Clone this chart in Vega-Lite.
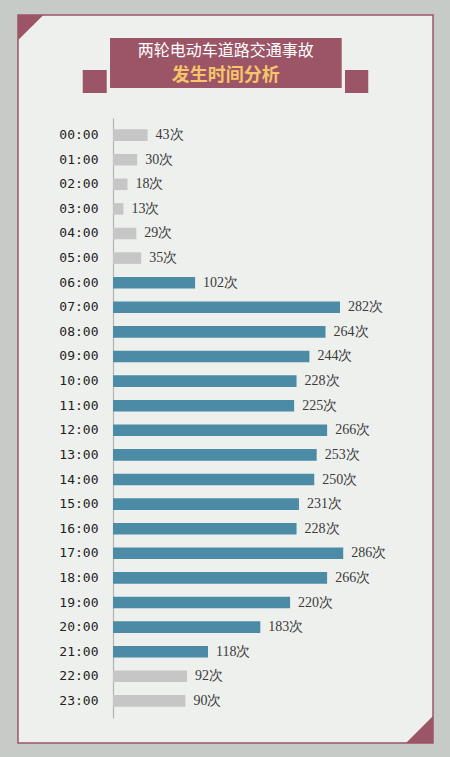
{
  "$schema": "https://vega.github.io/schema/vega-lite/v6.json",
  "width": 415,
  "height": 728,
  "autosize": {"type": "none"},
  "padding": {"left": 18, "top": 15, "right": 17, "bottom": 14},
  "background": "#c6cbc8",
  "data": {
    "values": [
      {"hour": "00:00", "count": 43},
      {"hour": "01:00", "count": 30},
      {"hour": "02:00", "count": 18},
      {"hour": "03:00", "count": 13},
      {"hour": "04:00", "count": 29},
      {"hour": "05:00", "count": 35},
      {"hour": "06:00", "count": 102},
      {"hour": "07:00", "count": 282},
      {"hour": "08:00", "count": 264},
      {"hour": "09:00", "count": 244},
      {"hour": "10:00", "count": 228},
      {"hour": "11:00", "count": 225},
      {"hour": "12:00", "count": 266},
      {"hour": "13:00", "count": 253},
      {"hour": "14:00", "count": 250},
      {"hour": "15:00", "count": 231},
      {"hour": "16:00", "count": 228},
      {"hour": "17:00", "count": 286},
      {"hour": "18:00", "count": 266},
      {"hour": "19:00", "count": 220},
      {"hour": "20:00", "count": 183},
      {"hour": "21:00", "count": 118},
      {"hour": "22:00", "count": 92},
      {"hour": "23:00", "count": 90}
    ]
  },
  "layer": [
    {
      "data": {"values": [{}]},
      "encoding": {
        "x": {"datum": -118, "type": "quantitative"},
        "y": {"datum": 0, "type": "quantitative", "axis": null,
              "scale": {"domain": [0, 728], "range": [0, 728], "zero": false, "nice": false}}
      },
      "mark": {"type": "point", "shape": "M0,0L2,0L0,2Z", "size": 640, "filled": true,
               "opacity": 1, "color": "#9b5566", "strokeWidth": 0}
    },
    {
      "data": {"values": [{}]},
      "encoding": {
        "x": {"datum": 397.5, "type": "quantitative"},
        "y": {"datum": 728, "type": "quantitative", "axis": null,
              "scale": {"domain": [0, 728], "range": [0, 728], "zero": false, "nice": false}}
      },
      "mark": {"type": "point", "shape": "M0,0L-2,0L0,-2Z", "size": 729, "filled": true,
               "opacity": 1, "color": "#9b5566", "strokeWidth": 0}
    },
    {
      "data": {"values": [{"x": -37.6, "x2": -7.8, "y": 55, "y2": 78}, {"x": 288.2, "x2": 317.1, "y": 55, "y2": 78}, {"x": -3.7, "x2": 284.1, "y": 23, "y2": 73}]},
      "mark": {"type": "rect", "color": "#9b5566"},
      "encoding": {
        "x": {"field": "x", "type": "quantitative"},
        "x2": {"field": "x2"},
        "y": {"field": "y", "type": "quantitative", "axis": null,
              "scale": {"domain": [0, 728], "range": [0, 728], "zero": false, "nice": false}},
        "y2": {"field": "y2"}
      }
    },
    {
      "data": {"values": [{}]},
      "encoding": {
        "x": {"datum": 140.2, "type": "quantitative"},
        "y": {"datum": 35.5, "type": "quantitative", "axis": null,
              "scale": {"domain": [0, 728], "range": [0, 728], "zero": false, "nice": false}}
      },
      "mark": {"type": "text", "text": "两轮电动车道路交通事故", "font": "Noto Sans CJK SC",
               "fontSize": 16, "color": "#ffffff", "baseline": "middle", "align": "center"}
    },
    {
      "data": {"values": [{}]},
      "encoding": {
        "x": {"datum": 140.2, "type": "quantitative"},
        "y": {"datum": 60.5, "type": "quantitative", "axis": null,
              "scale": {"domain": [0, 728], "range": [0, 728], "zero": false, "nice": false}}
      },
      "mark": {"type": "text", "text": "发生时间分析", "font": "Noto Sans CJK SC",
               "fontSize": 18, "fontWeight": "bold", "color": "#f6c46a", "baseline": "middle", "align": "center"}
    },
    {
      "layer": [
        {
          "mark": {"type": "bar"},
          "encoding": {
            "y": {
              "field": "hour", "type": "ordinal", "sort": null,
              "scale": {"type": "band", "range": [103, 703], "paddingInner": 0.53, "paddingOuter": 0.46},
              "axis": {
                "title": null, "orient": "left", "offset": -95, "ticks": false,
                "domainColor": "#b3b3b3", "domainWidth": 1.2, "labelPadding": 15,
                "labelFont": "DejaVu Sans Mono", "labelFontSize": 13, "labelColor": "#222222", "grid": false
              }
            },
            "x": {
              "field": "count", "type": "quantitative",
              "scale": {"domain": [0, 300], "range": [95, 336.5], "nice": false},
              "axis": null
            },
            "color": {
              "condition": {"test": "datum.count >= 100", "value": "#4b8ba5"},
              "value": "#c6c6c6"
            }
          }
        },
        {
          "transform": [{"calculate": "datum.count + '次'", "as": "label"}],
          "mark": {"type": "text", "align": "left", "baseline": "middle", "dx": 8,
                   "font": "Liberation Serif", "fontSize": 14, "color": "#3a3a3a"},
          "encoding": {
            "y": {"field": "hour", "type": "ordinal", "sort": null},
            "x": {"field": "count", "type": "quantitative"},
            "text": {"field": "label"}
          }
        }
      ]
    }
  ],
  "resolve": {"scale": {"y": "independent"}},
  "config": {
    "view": {"fill": "#eef0ee", "stroke": "#9b5566", "strokeWidth": 1.5}
  }
}
